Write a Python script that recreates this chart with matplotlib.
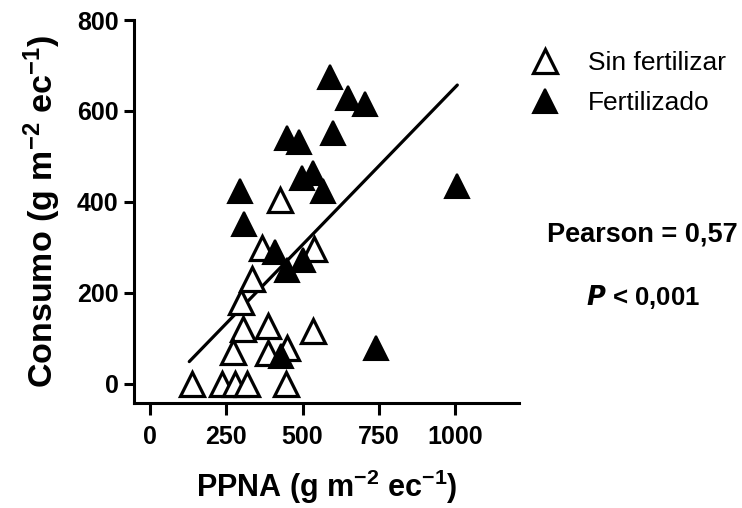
import matplotlib
matplotlib.use('Agg')
from matplotlib import pyplot as plt
import numpy as np

plt.rcParams['font.family'] = ['Liberation Sans', 'DejaVu Sans']
plt.rcParams['mathtext.fontset'] = 'custom'
plt.rcParams['mathtext.rm'] = 'Liberation Sans:bold'
plt.rcParams['mathtext.bf'] = 'Liberation Sans:bold'
plt.rcParams['mathtext.default'] = 'bf'

# Sin fertilizar (open triangles)
sin_x = [137, 235, 279, 317, 445, 426, 366, 538, 336, 298, 305, 388, 534, 273, 388, 448]
sin_y = [0, 0, 0, 0, 0, 404, 298, 296, 230, 180, 120, 128, 117, 71, 69, 78]

# Fertilizado (filled triangles)
fer_x = [590, 650, 704, 448, 489, 600, 497, 533, 568, 295, 1006, 307, 409, 448, 502, 740, 431]
fer_y = [675, 628, 615, 540, 532, 551, 452, 463, 425, 424, 435, 351, 291, 251, 273, 78, 62]

# regression line
fit_x = [129, 1007]
fit_y = [49, 657]

xticks = [0, 250, 500, 750, 1000]
yticks = [0, 200, 400, 600, 800]

fig = plt.figure(figsize=(7.42, 5.08), dpi=100)
ax = fig.add_axes([134/742, 1 - 403/508, (519 - 134)/742, (403 - 20)/508])

ax.plot(fit_x, fit_y, color='black', lw=2.3, solid_capstyle='round', zorder=2)
ax.plot(sin_x, sin_y, linestyle='none', marker='^', ms=17, mfc='white', mec='black',
        mew=2.3, label='Sin fertilizar', zorder=3)
ax.plot(fer_x, fer_y, linestyle='none', marker='^', ms=17.5, mfc='black', mec='black',
        mew=1.5, label='Fertilizado', zorder=4)

ax.set_xlim(-52, 1209)
ax.set_ylim(-42, 800)
ax.set_xticks(xticks)
ax.set_yticks(yticks)
for s in ['top', 'right']:
    ax.spines[s].set_visible(False)
for s in ['left', 'bottom']:
    ax.spines[s].set_linewidth(2.2)
ax.tick_params(width=2.2, labelsize=18)
ax.tick_params(axis='y', length=7, pad=4)
ax.tick_params(axis='x', length=8.5, pad=7)
for lab in ax.get_xticklabels() + ax.get_yticklabels():
    lab.set_fontweight('bold')

ax.set_xlabel(r'PPNA (g m$^{-2}$ ec$^{-1}$)', fontsize=22, fontweight='bold', labelpad=14)
ax.set_ylabel(r'Consumo (g m$^{-2}$ ec$^{-1}$)', fontsize=24.5, fontweight='bold', labelpad=10)

fig.legend(loc='center left', bbox_to_anchor=(532/742, 1 - 83/508), frameon=False,
           fontsize=19, handletextpad=1.13, labelspacing=0.59, borderaxespad=0,
           borderpad=0, handlelength=1.0)

fig.text(642/742, 1 - 234/508, 'Pearson = 0,57', fontsize=19.5, fontweight='bold',
         ha='center', va='center')
fig.text(643/742, 1 - 297/508, r'$\boldsymbol{P}$ < 0,001', fontsize=18.5, fontweight='bold',
         ha='center', va='center')

fig.savefig('out.png', dpi=100)
